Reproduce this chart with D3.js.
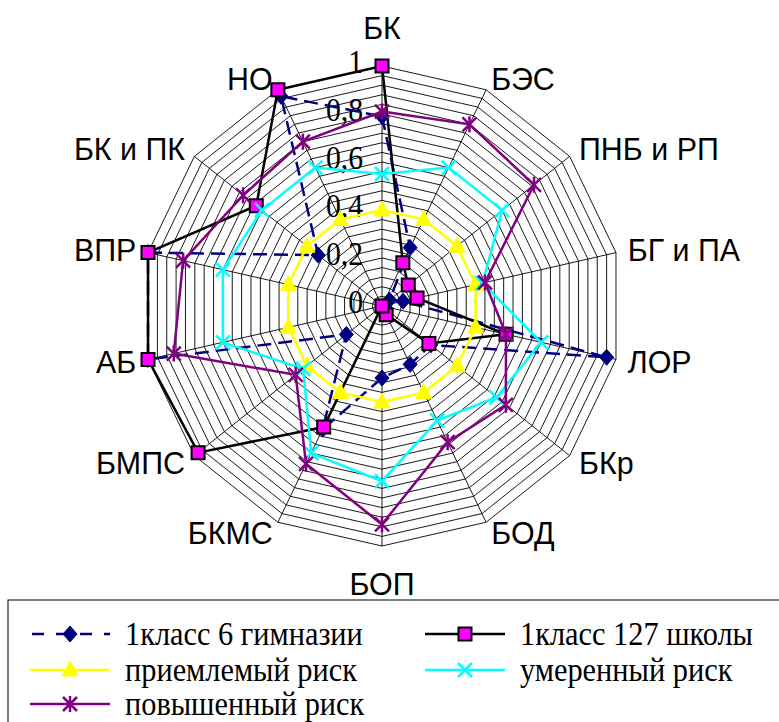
<!DOCTYPE html>
<html>
<head>
<meta charset="utf-8">
<script src="https://cdn.jsdelivr.net/npm/d3@7"></script>
<style>
  body { margin: 0; background: #fff; }
  svg { display: block; }
</style>
</head>
<body>
<div id="chart"></div>
<script>
// categories going clockwise from the top
const categories = ["БК", "БЭС", "ПНБ и РП", "БГ и ПА", "ЛОР", "БКр", "БОД", "БОП", "БКМС", "БМПС", "АБ", "ВПР", "БК и ПК", "НО"];

const gymnasium6   = [0.79, 0.27, 0.04, 0.09, 0.96, 0.26, 0.27, 0.30, 0.57, 0.19, 1.00, 1.00, 0.34, 0.97];
const school127    = [1.00, 0.20, 0.14, 0.15, 0.53, 0.25, 0.04, 0.00, 0.56, 0.98, 1.00, 1.00, 0.67, 1.00];
const acceptable   = [0.40, 0.40, 0.40, 0.40, 0.40, 0.40, 0.40, 0.40, 0.40, 0.40, 0.40, 0.40, 0.40, 0.40];
const moderate     = [0.55, 0.64, 0.64, 0.43, 0.68, 0.61, 0.53, 0.73, 0.68, 0.42, 0.68, 0.68, 0.64, 0.64];
const elevated     = [0.81, 0.84, 0.81, 0.44, 0.53, 0.66, 0.63, 0.91, 0.73, 0.46, 0.89, 0.85, 0.74, 0.76];

const seriesNames = ["1класс 6 гимназии", "1класс 127 школы", "приемлемый риск", "умеренный риск", "повышенный риск"];

const tickValues = [0, 0.2, 0.4, 0.6, 0.8, 1];
const tickLabels = ["0", "0,2", "0,4", "0,6", "0,8", "1"];
const gridStep = 0.04;

const width = 779, height = 722;
const cx = 382, cy = 306, R = 240;

const svg = d3.select("#chart").append("svg")
    .attr("width", width)
    .attr("height", height);

const rScale = d3.scaleLinear().domain([0, 1]).range([0, R]);
const aScale = d3.scaleLinear().domain([0, categories.length]).range([0, 2 * Math.PI]);

const root = svg.append("g").attr("transform", "translate(" + cx + "," + cy + ")");

function px(i, v){ return rScale(v) * Math.sin(aScale(i)); }
function py(i, v){ return -rScale(v) * Math.cos(aScale(i)); }

// text in the picture is a little narrower than the fonts we have
function squeeze(x, y, sx){
    return "translate(" + x + "," + y + ") scale(" + sx + ",1)";
}

// grid rings
const rings = d3.range(1, Math.round(1 / gridStep) + 1).map(function(k){ return k * gridStep; });
const ringLine = d3.lineRadial()
    .angle(function(d, i){ return aScale(i); })
    .radius(function(d){ return rScale(d); })
    .curve(d3.curveLinearClosed);

root.append("g").attr("class", "grid")
  .selectAll("path")
  .data(rings)
  .enter().append("path")
    .attr("d", function(v){ return ringLine(categories.map(function(){ return v; })); })
    .attr("fill", "none")
    .attr("stroke", "#000")
    .attr("stroke-width", 0.9);

root.append("g").attr("class", "spokes")
  .selectAll("line")
  .data(categories)
  .enter().append("line")
    .attr("x1", 0).attr("y1", 0)
    .attr("x2", function(d, i){ return px(i, 1); })
    .attr("y2", function(d, i){ return py(i, 1); })
    .attr("stroke", "#000")
    .attr("stroke-width", 0.9);

// value axis labels
root.append("g").attr("class", "ticks")
  .selectAll("text")
  .data(tickValues)
  .enter().append("text")
    .attr("transform", function(d){ return squeeze(-19, -rScale(d) - 4, 0.9); })
    .attr("text-anchor", "end")
    .attr("dominant-baseline", "central")
    .style("font-family", "'Liberation Serif', 'Times New Roman', serif")
    .style("font-size", "33px")
    .text(function(d, i){ return tickLabels[i]; });

// category labels
root.append("g").attr("class", "categories")
  .selectAll("text")
  .data(categories)
  .enter().append("text")
    .attr("transform", function(d, i){
        let s = Math.sin(aScale(i)), c = Math.cos(aScale(i));
        let x = px(i, 1) + (Math.abs(s) < 0.1 ? 0 : 12 * s);
        let y = Math.abs(s) < 0.1 ? py(i, 1) - c * 38 : py(i, 1) - 12 * c;
        return squeeze(x, y, 0.95);
    })
    .attr("text-anchor", function(d, i){
        let s = Math.sin(aScale(i));
        if(s > 0.1) return "start";
        if(s < -0.1) return "end";
        return "middle";
    })
    .attr("dominant-baseline", "central")
    .style("font-family", "'Liberation Sans', Arial, sans-serif")
    .style("font-size", "32px")
    .text(function(d){ return d; });

// markers
function marker(type){
    switch(type){
        case "diamond": return "M0,-8L7,0L0,8L-7,0Z";
        case "square": return "M-6.5,-6.5H6.5V6.5H-6.5Z";
        case "triangle": return "M0,-9L8,6H-8Z";
        case "x": return "M-7,-7L7,7M-7,7L7,-7";
        case "star": return "M-7,-7L7,7M-7,7L7,-7M0,-8V8";
    }
}

const series = [
    {name: seriesNames[0], values: gymnasium6, color: "#000080", dash: "14,7", marker: "diamond", fill: "#000080", mstroke: "#000080", mwidth: 1},
    {name: seriesNames[1], values: school127, color: "#000000", dash: null, marker: "square", fill: "#ff00ff", mstroke: "#000000", mwidth: 2},
    {name: seriesNames[2], values: acceptable, color: "#ffff00", dash: null, marker: "triangle", fill: "#ffff00", mstroke: "#ffff00", mwidth: 1},
    {name: seriesNames[3], values: moderate, color: "#00ffff", dash: null, marker: "x", fill: "none", mstroke: "#00ffff", mwidth: 2.5},
    {name: seriesNames[4], values: elevated, color: "#800080", dash: null, marker: "star", fill: "none", mstroke: "#800080", mwidth: 2.5}
];

const valueLine = d3.lineRadial()
    .angle(function(d, i){ return aScale(i); })
    .radius(function(d){ return rScale(d); })
    .curve(d3.curveLinearClosed);

series.forEach(function(s){
    let g = root.append("g").attr("class", "series");
    g.append("path")
        .attr("d", valueLine(s.values))
        .attr("fill", "none")
        .attr("stroke", s.color)
        .attr("stroke-width", 2.5)
        .attr("stroke-dasharray", s.dash);
    g.selectAll(".pt")
        .data(s.values)
        .enter().append("path")
        .attr("class", "pt")
        .attr("transform", function(d, i){ return "translate(" + px(i, d) + "," + py(i, d) + ")"; })
        .attr("d", marker(s.marker))
        .attr("fill", s.fill)
        .attr("stroke", s.mstroke)
        .attr("stroke-width", s.mwidth);
});

// legend
const legend = svg.append("g").attr("class", "legend");
legend.append("rect")
    .attr("x", 8).attr("y", 600)
    .attr("width", 800).attr("height", 200)
    .attr("fill", "none")
    .attr("stroke", "#000")
    .attr("stroke-width", 1);

const legendPos = [[30, 634], [425, 634], [30, 670], [425, 670], [30, 704]];
series.forEach(function(s, i){
    let item = legend.append("g")
        .attr("transform", "translate(" + legendPos[i][0] + "," + legendPos[i][1] + ")");
    item.append("line")
        .attr("x1", 0).attr("x2", 80)
        .attr("y1", 0).attr("y2", 0)
        .attr("stroke", s.color)
        .attr("stroke-width", 2.5)
        .attr("stroke-dasharray", s.dash ? "12,12" : null)
        .attr("stroke-dashoffset", s.dash ? -2 : null);
    item.append("path")
        .attr("transform", "translate(40,0)")
        .attr("d", marker(s.marker))
        .attr("fill", s.fill)
        .attr("stroke", s.mstroke)
        .attr("stroke-width", s.mwidth);
    item.append("text")
        .attr("transform", squeeze(95, 0, 0.92))
        .attr("dominant-baseline", "central")
        .style("font-family", "'Liberation Serif', 'Times New Roman', serif")
        .style("font-size", "33px")
        .text(s.name);
});
</script>
</body>
</html>
